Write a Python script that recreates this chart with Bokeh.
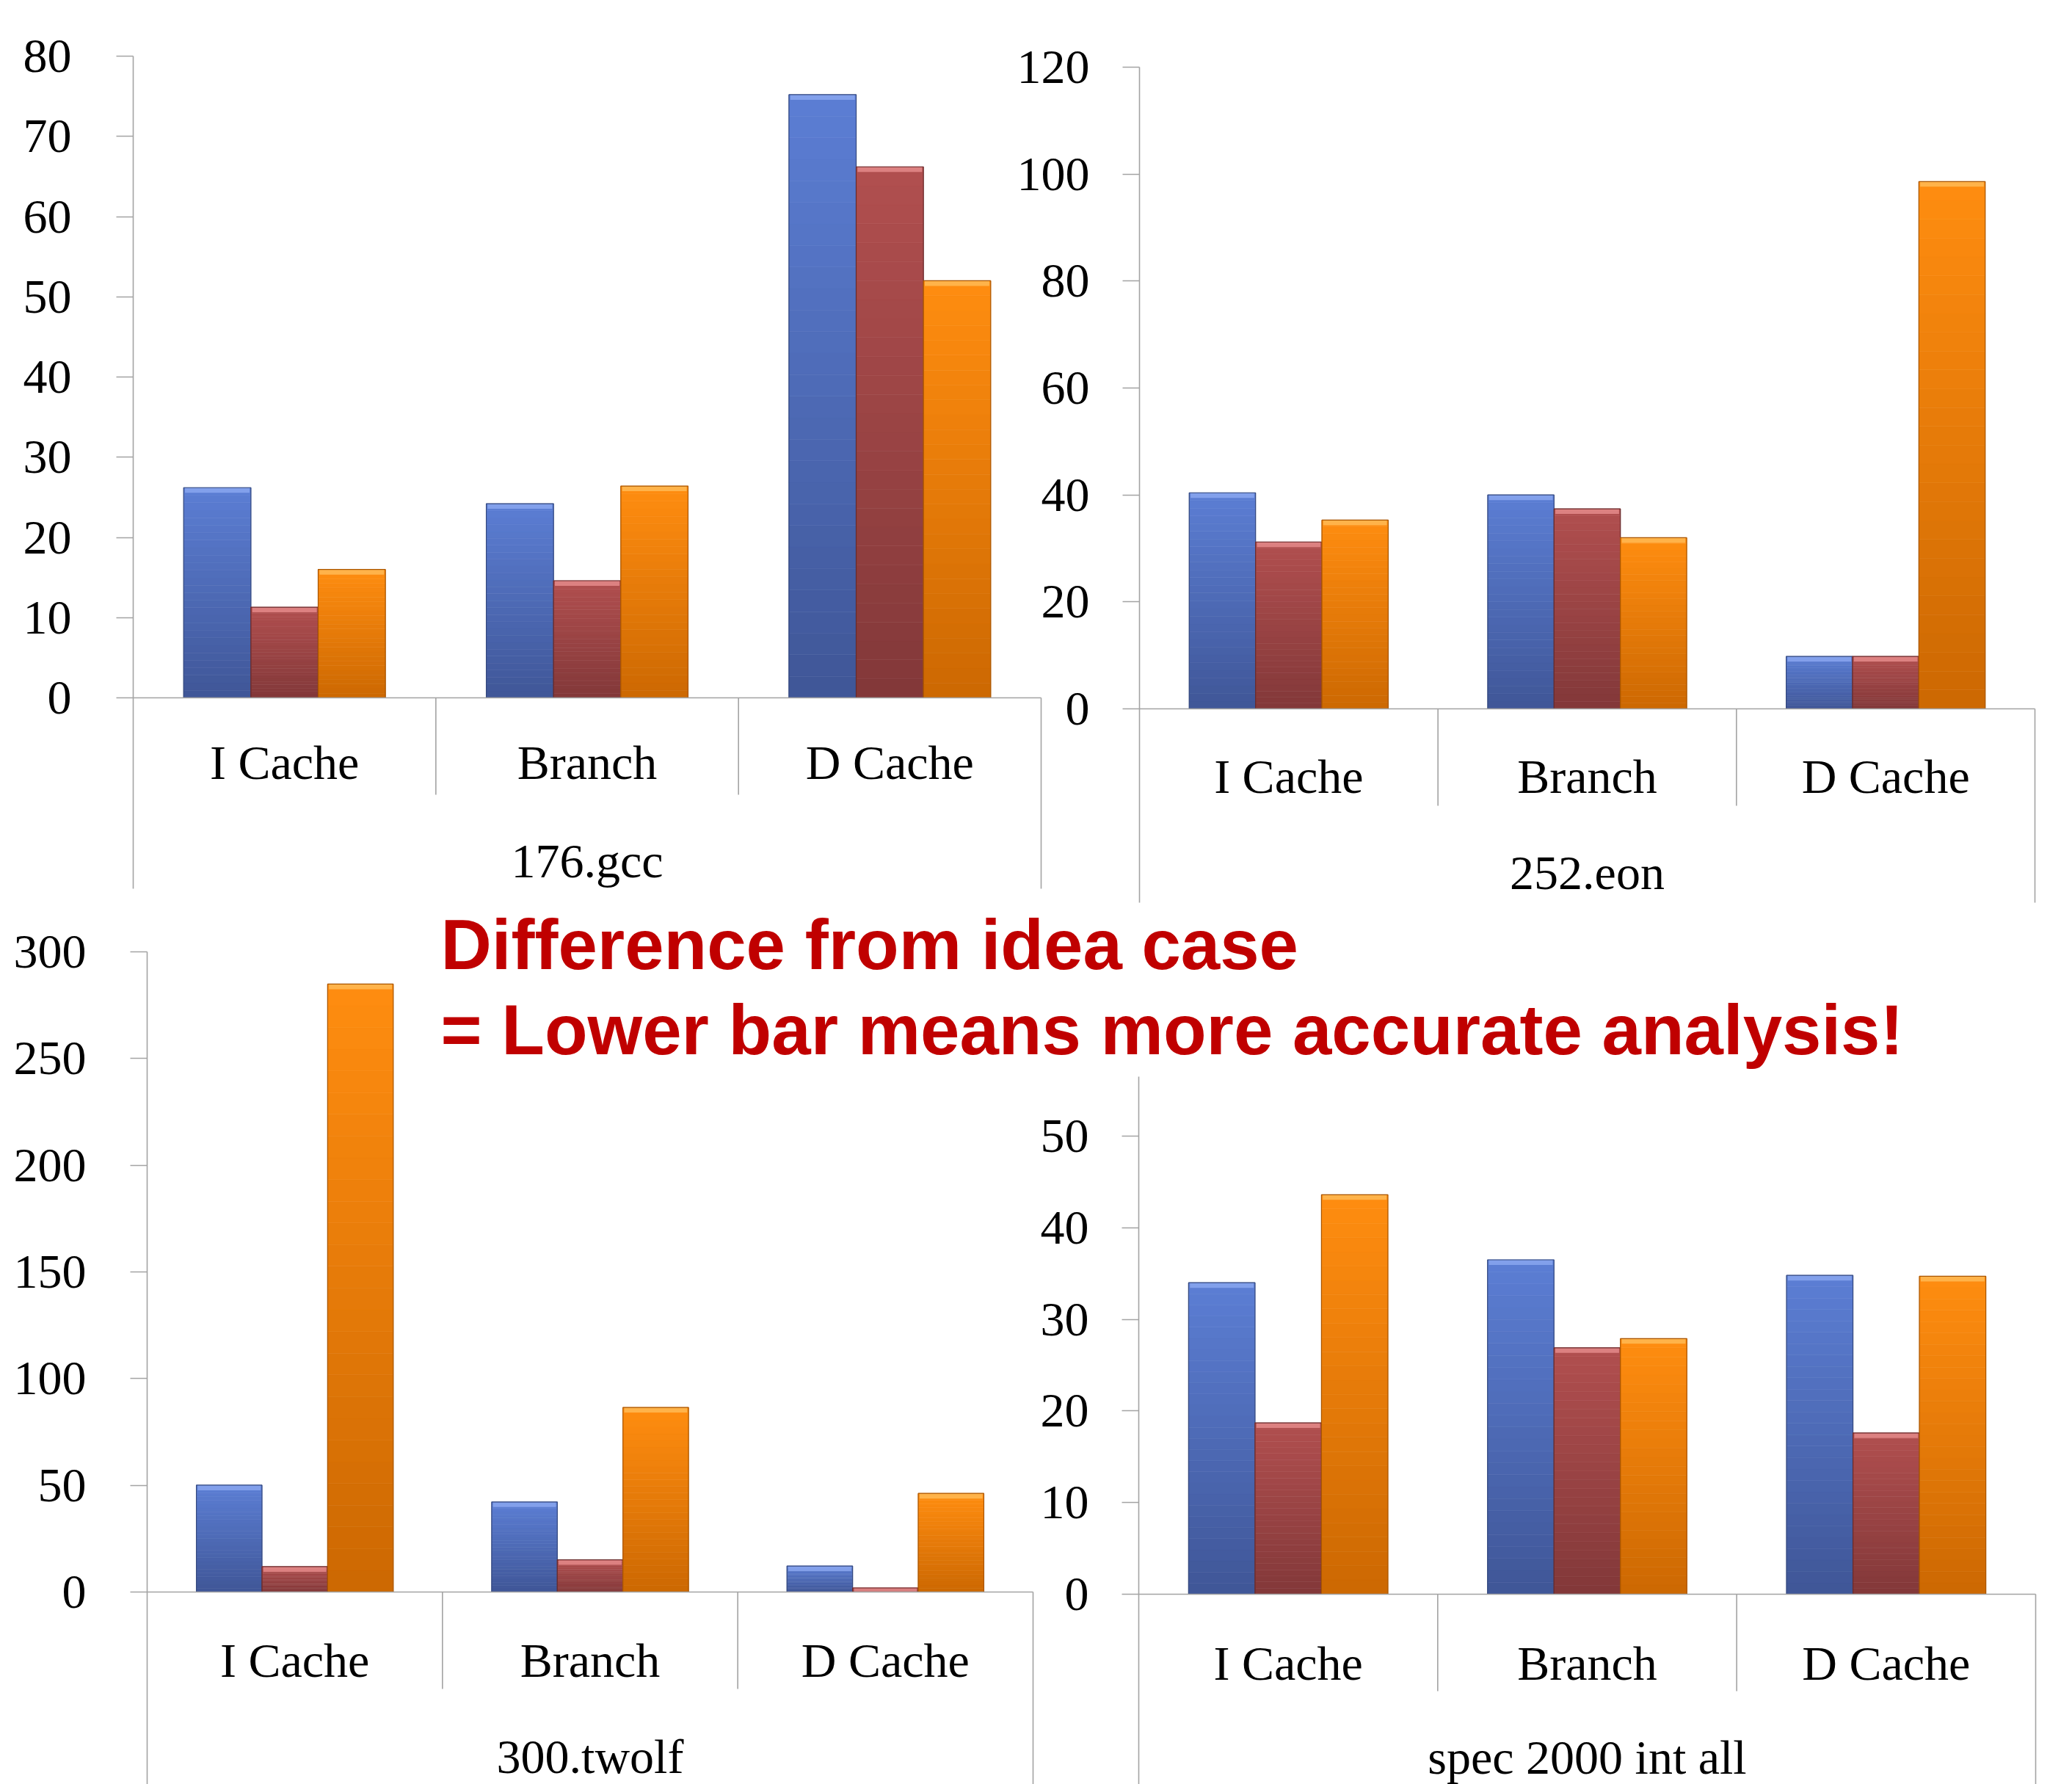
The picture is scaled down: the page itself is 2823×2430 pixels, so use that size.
from bokeh.plotting import figure
from bokeh.models import Range1d, FixedTicker, ColumnDataSource, LinearAxis
from bokeh.embed import file_html
from bokeh.resources import INLINE
from bokeh.core.properties import value

# ---------------- data ----------------
categories = ["I Cache", "Branch", "D Cache"]

gcc_blue = [26.2, 24.2, 75.2]
gcc_red = [11.3, 14.6, 66.2]
gcc_orange = [16.0, 26.4, 52.0]

eon_blue = [40.4, 40.0, 9.8]
eon_red = [31.2, 37.4, 9.8]
eon_orange = [35.3, 32.0, 98.6]

twolf_blue = [50.1, 42.2, 12.2]
twolf_red = [11.9, 15.1, 1.9]
twolf_orange = [284.9, 86.5, 46.2]

spec_blue = [34.0, 36.5, 34.8]
spec_red = [18.7, 26.9, 17.6]
spec_orange = [43.6, 27.9, 34.7]

group_labels = ["176.gcc", "252.eon", "300.twolf", "spec 2000 int all"]

gcc_ticks = [0, 10, 20, 30, 40, 50, 60, 70, 80]
eon_ticks = [0, 20, 40, 60, 80, 100, 120]
twolf_ticks = [0, 50, 100, 150, 200, 250, 300]
spec_ticks = [0, 10, 20, 30, 40, 50]

note_lines = ["Difference from idea case", "= Lower bar means more accurate analysis!"]

# ---------------- style ----------------
W, H = 2823, 2430
AXIS = "#A3A3A3"
SERIF = "Liberation Serif"
FS = "66px"
BAR_W = 1.0 / 4.5
N_SLICES = 28

# (bottom colour, top colour, highlight, outline)
PALETTE = [
    ("#3F5697", "#5C7ED4", "#8AA6EE", "#34487E"),
    ("#823839", "#B14F4F", "#E48A8A", "#692B2C"),
    ("#CC6802", "#FF8D10", "#FFBA55", "#A95500"),
]


def hex_rgb(h):
    h = h.lstrip("#")
    return tuple(int(h[i:i + 2], 16) for i in (0, 2, 4))


def mix(c0, c1, t):
    a, b = hex_rgb(c0), hex_rgb(c1)
    return "#%02x%02x%02x" % tuple(round(a[i] + (b[i] - a[i]) * t) for i in range(3))


p = figure(width=W, height=H, output_backend="svg", toolbar_location=None,
           x_range=Range1d(0, W), y_range=Range1d(H, 0),
           x_axis_type=None, y_axis_type=None, min_border=0,
           background_fill_color="white", border_fill_color="white",
           outline_line_color=None)
p.xgrid.visible = False
p.ygrid.visible = False

xpos = list(range(len(categories)))
overrides = {i: c for i, c in zip(xpos, categories)}


def add_chart(name, series, ticks, group, lay):
    left, right, top, y0, bottom, div, ref_val, ref_px, cap_off, tick_stand, grp_off = lay
    ppu = (y0 - ref_px) / ref_val
    ppx = (right - left) / len(categories)
    xs0 = -0.5 - left / ppx
    xn, yn = name + "_x", name + "_y"
    p.extra_x_ranges[xn] = Range1d(xs0, xs0 + W / ppx)
    p.extra_y_ranges[yn] = Range1d((y0 - H) / ppu, y0 / ppu)
    y_bot = -(bottom - y0) / ppu
    y_top = (y0 - top) / ppu
    div_val = -(div - y0) / ppu
    x_lo, x_hi = -0.5, len(categories) - 0.5

    offsets = [-BAR_W, 0.0, BAR_W]
    for vals, off, (cb, ct, hl, ol) in zip(series, offsets, PALETTE):
        xx, bots, tops, cols = [], [], [], []
        for xi, v in zip(xpos, vals):
            for k in range(N_SLICES):
                xx.append(xi + off)
                bots.append(v * k / N_SLICES)
                tops.append(v * (k + 1) / N_SLICES)
                cols.append(mix(cb, ct, (k + 0.5) / N_SLICES))
        src = ColumnDataSource(dict(x=xx, b=bots, t=tops, c=cols))
        p.vbar(x="x", bottom="b", top="t", width=BAR_W, fill_color="c", line_color="c",
               line_width=0.6, source=src, x_range_name=xn, y_range_name=yn)
        hsrc = ColumnDataSource(dict(x=[xi + off for xi in xpos], t=vals,
                                     b=[max(v - 7 / ppu, 0) for v in vals]))
        p.vbar(x="x", bottom="b", top="t", width=BAR_W * 0.96, fill_color=hl, fill_alpha=0.85,
               line_color=None, source=hsrc, x_range_name=xn, y_range_name=yn)
        osrc = ColumnDataSource(dict(x=[xi + off for xi in xpos], t=vals))
        p.vbar(x="x", bottom=0, top="t", width=BAR_W, fill_color=None, line_color=ol,
               line_width=1.2, source=osrc, x_range_name=xn, y_range_name=yn)

    # separators between categories and right border of the category axis
    seg = ColumnDataSource(dict(x=[xi + 0.5 for xi in xpos],
                                y1=[div_val] * (len(xpos) - 1) + [y_bot]))
    p.segment(x0="x", x1="x", y0=0, y1="y1", line_color=AXIS, line_width=1.6,
              source=seg, x_range_name=xn, y_range_name=yn)

    ya = LinearAxis(x_range_name=xn, y_range_name=yn, fixed_location=x_lo,
                    bounds=(y_bot, y_top), ticker=FixedTicker(ticks=ticks))
    ya.axis_line_color = AXIS
    ya.axis_line_width = 1.6
    ya.major_tick_line_color = AXIS
    ya.major_tick_line_width = 1.6
    ya.major_tick_out = 23
    ya.major_tick_in = 0
    ya.minor_tick_out = 0
    ya.minor_tick_in = 0
    ya.major_label_standoff = tick_stand
    ya.major_label_text_font = SERIF
    ya.major_label_text_font_size = FS
    ya.major_label_text_color = "black"
    p.add_layout(ya, "left")

    xa = LinearAxis(x_range_name=xn, y_range_name=yn, fixed_location=0,
                    bounds=(x_lo, x_hi), ticker=FixedTicker(ticks=xpos))
    xa.major_label_overrides = overrides
    xa.axis_line_color = AXIS
    xa.axis_line_width = 1.6
    xa.major_tick_out = 0
    xa.major_tick_in = 0
    xa.minor_tick_out = 0
    xa.minor_tick_in = 0
    xa.major_label_standoff = cap_off - 16
    xa.major_label_text_font = SERIF
    xa.major_label_text_font_size = FS
    xa.major_label_text_color = "black"
    xa.axis_label = group
    xa.axis_label_text_font = SERIF
    xa.axis_label_text_font_size = FS
    xa.axis_label_text_font_style = "normal"
    xa.axis_label_text_color = "black"
    xa.axis_label_standoff = grp_off - cap_off - 80
    p.add_layout(xa, "below")


# layout (screen px): left, right, top, y0, bottom, divider bottom, ref value, ref px,
#                     category label offset, tick label standoff, group label offset
add_chart("gcc", [gcc_blue, gcc_red, gcc_orange], gcc_ticks, group_labels[0],
          (181, 1418, 76, 950, 1210, 1082, 80, 76, 67, 61, 205))
add_chart("eon", [eon_blue, eon_red, eon_orange], eon_ticks, group_labels[1],
          (1552, 2772, 91, 965, 1229, 1097, 120, 91, 71, 45, 206))
add_chart("twolf", [twolf_blue, twolf_red, twolf_orange], twolf_ticks, group_labels[2],
          (200, 1407, 1296, 2168, H, 2300, 300, 1296, 72, 60, 207))
add_chart("spec", [spec_blue, spec_red, spec_orange], spec_ticks, group_labels[3],
          (1551, 2773, 1466, 2171, H, 2303, 50, 1547, 73, 45, 205))

# red note
p.text(x=[600, 600], y=[1286, 1402], text=note_lines,
       text_font=value("Liberation Sans"), text_font_style="bold",
       text_font_size="96px", text_color="#C00000",
       text_align="left", text_baseline="alphabetic")

open("out.html", "w").write(file_html(p, INLINE))
